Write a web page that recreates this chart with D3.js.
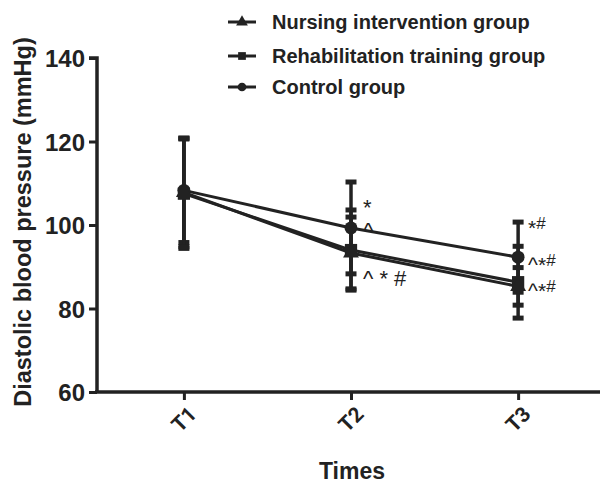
<!DOCTYPE html>
<html><head><meta charset="utf-8">
<script src="https://cdn.jsdelivr.net/npm/d3@7"></script>
<style>body{margin:0;background:#fff}svg{display:block}</style>
</head><body>
<svg id="c" width="600" height="485"></svg>
<script>
const categories = ["T1","T2","T3"];
const seriesNames = ["Nursing intervention group","Rehabilitation training group","Control group"];
const nursingMean = [107.8, 93.3, 85.3];
const nursingSD = [13.0, 8.6, 4.5];
const rehabMean = [107.5, 94.0, 86.3];
const rehabSD = [13.1, 9.6, 8.6];
const controlMean = [108.3, 99.3, 92.3];
const controlSD = [12.5, 11.0, 8.4];
const yTicks = [60, 80, 100, 120, 140];
const annotT2 = [{v:102.5, t:"*"}, {v:97, t:"^"}, {v:85.5, t:"^ * #"}];
const annotT3 = [{v:97.5, t:"*", sup:"#"}, {v:88.8, t:"^*", sup:"#"}, {v:82.5, t:"^*", sup:"#"}];

const svg = d3.select("#c");
const ink = "#222";
const x = d3.scaleLinear().domain([0.48, 3.49]).range([97, 600]);
const y = d3.scaleLinear().domain([60, 140]).range([392, 58]);
const af = "Liberation Sans, Arial, sans-serif";

// y axis
const ya = svg.append("g").attr("transform","translate(97,0)")
  .call(d3.axisLeft(y).tickValues(yTicks).tickSize(8).tickPadding(4));
ya.select(".domain").attr("stroke",ink).attr("stroke-width",3.5).attr("d","M-8,"+y(140)+"H0V"+y(60));
ya.selectAll(".tick line").attr("stroke",ink).attr("stroke-width",3);
ya.selectAll(".tick text").attr("font-family",af).attr("font-weight","bold")
  .attr("font-size",24).attr("fill",ink).attr("dy","0.36em");

// x axis
const xa = svg.append("g").attr("transform","translate(0,392)")
  .call(d3.axisBottom(x).tickValues([1,2,3]).tickFormat((d,i)=>categories[i]).tickSize(8).tickPadding(4));
xa.select(".domain").attr("stroke",ink).attr("stroke-width",3.5).attr("d","M95,0H600");
xa.selectAll(".tick line").attr("stroke",ink).attr("stroke-width",3);
xa.selectAll(".tick text").attr("font-family","Roboto, sans-serif").attr("font-weight","bold")
  .attr("font-size",21).attr("fill",ink)
  .attr("text-anchor","end").attr("dy",0)
  .attr("transform","translate(5,15) rotate(-45)");

// axis titles
svg.append("text").attr("x",352).attr("y",479).attr("text-anchor","middle")
  .attr("font-family",af).attr("font-weight","bold").attr("font-size",23)
  .attr("fill",ink).text("Times");
svg.append("text").attr("transform","translate(31,222) rotate(-90)").attr("text-anchor","middle")
  .attr("font-family",af).attr("font-weight","bold").attr("font-size",23.5)
  .attr("fill",ink).text("Diastolic blood pressure (mmHg)");

const series = [
  {name:seriesNames[2], mean:controlMean, sd:controlSD, sym:d3.symbolCircle, size:130},
  {name:seriesNames[1], mean:rehabMean, sd:rehabSD, sym:d3.symbolSquare, size:150},
  {name:seriesNames[0], mean:nursingMean, sd:nursingSD, sym:d3.symbolTriangle, size:110}
];

const g = svg.append("g");
// error bars
series.forEach(s=>{
  s.mean.forEach((m,i)=>{
    const cx = x(i+1);
    g.append("line").attr("x1",cx).attr("x2",cx).attr("y1",y(m+s.sd[i])).attr("y2",y(m-s.sd[i]))
      .attr("stroke",ink).attr("stroke-width",3.5);
    [m+s.sd[i], m-s.sd[i]].forEach(v=>{
      g.append("line").attr("x1",cx-5.5).attr("x2",cx+5.5).attr("y1",y(v)).attr("y2",y(v))
        .attr("stroke",ink).attr("stroke-width",5);
    });
  });
});
// lines
const line = d3.line().x((d,i)=>x(i+1)).y(d=>y(d));
series.forEach(s=>{
  g.append("path").attr("d",line(s.mean)).attr("fill","none").attr("stroke",ink).attr("stroke-width",3);
});
// markers
series.forEach(s=>{
  s.mean.forEach((m,i)=>{
    g.append("path").attr("d",d3.symbol(s.sym,s.size)()).attr("transform",`translate(${x(i+1)},${y(m)})`).attr("fill",ink);
  });
});

// annotations
annotT2.forEach(a=>{
  svg.append("text").attr("x",x(2)+12).attr("y",y(a.v)).attr("font-family",af).attr("font-size",22)
    .attr("fill",ink).attr("xml:space","preserve").text(a.t);
});
annotT3.forEach(a=>{
  const t = svg.append("text").attr("x",x(3)+10).attr("y",y(a.v)).attr("font-family",af).attr("font-size",21).attr("fill",ink);
  t.append("tspan").text(a.t);
  t.append("tspan").attr("dy",-6).attr("font-size",17).text(a.sup);
});

// legend
const leg = svg.append("g");
const legSyms = [d3.symbolTriangle, d3.symbolSquare, d3.symbolCircle];
const legY = [22, 56, 87];
seriesNames.forEach((n,i)=>{
  leg.append("line").attr("x1",228).attr("x2",256).attr("y1",legY[i]).attr("y2",legY[i]).attr("stroke",ink).attr("stroke-width",3);
  leg.append("path").attr("d",d3.symbol(legSyms[i], 60)()).attr("transform",`translate(242,${legY[i]})`).attr("fill",ink);
  leg.append("text").attr("x",272).attr("y",legY[i]+7).attr("font-family",af).attr("font-weight","bold")
    .attr("font-size",20).attr("fill",ink).text(n);
});
</script>
</body></html>
